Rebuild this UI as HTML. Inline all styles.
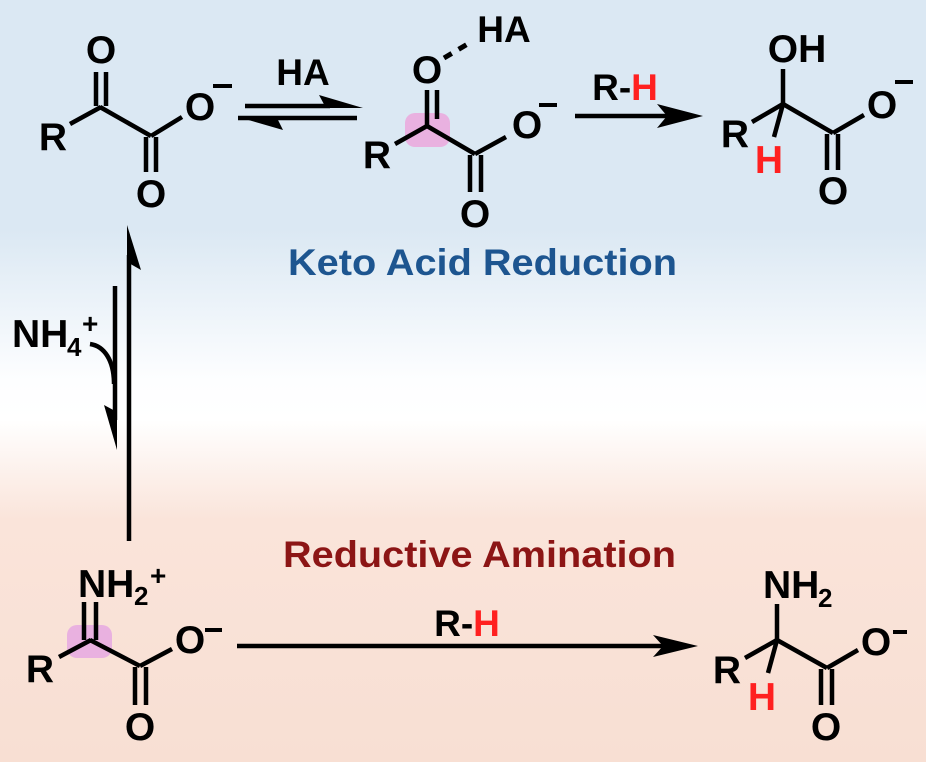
<!DOCTYPE html>
<html><head><meta charset="utf-8"><style>
html,body{margin:0;padding:0;}
body{width:926px;height:762px;overflow:hidden;background:linear-gradient(to bottom,#dbe8f3 0px,#dbe8f3 230px,#fdfeff 380px,#ffffff 420px,#fae4da 520px,#f8dfd3 762px);}
svg{display:block;}
text{font-family:"Liberation Sans",Arial,sans-serif;font-weight:bold;}
</style></head><body>
<svg width="926" height="762" viewBox="0 0 926 762" xmlns="http://www.w3.org/2000/svg">
<g stroke="#000" stroke-width="4.5" fill="none" stroke-linecap="butt">
<line x1="70" y1="124" x2="101" y2="107"/>
<line x1="96" y1="72" x2="96" y2="106"/><line x1="106" y1="72" x2="106" y2="106"/>
<line x1="100" y1="107" x2="151" y2="136"/>
<line x1="151" y1="136" x2="182" y2="117"/>
<line x1="146" y1="137" x2="146" y2="172"/><line x1="156" y1="137" x2="156" y2="172"/>
<line x1="245" y1="106" x2="330" y2="106"/>
<line x1="238" y1="118" x2="357" y2="118"/>
</g>
<polygon points="319,95 363,108 326,108" fill="#000"/>
<polygon points="283,130 238,117 276,116" fill="#000"/>
<rect x="405" y="113" width="45" height="34" rx="10" fill="#e9b1e0"/>
<g stroke="#000" stroke-width="4.5" fill="none">
<line x1="395" y1="144" x2="427" y2="126"/>
<line x1="427" y1="90" x2="427" y2="126"/><line x1="437" y1="90" x2="437" y2="119"/>
<line x1="427" y1="126" x2="475" y2="154"/>
<line x1="475" y1="154" x2="506" y2="137"/>
<line x1="470" y1="155" x2="470" y2="192"/><line x1="481" y1="155" x2="481" y2="192"/>
<line x1="444" y1="58" x2="471" y2="42" stroke-width="5" stroke-dasharray="9,8"/>
<line x1="575" y1="116" x2="670" y2="116"/>
</g>
<polygon points="703,116 657,104 667,116 657,128" fill="#000"/>
<g stroke="#000" stroke-width="4.5" fill="none">
<line x1="783" y1="69" x2="783" y2="105"/>
<line x1="783" y1="104" x2="752" y2="122"/>
<line x1="783" y1="104" x2="774" y2="137"/>
<line x1="783" y1="104" x2="833" y2="133"/>
<line x1="833" y1="133" x2="864" y2="115"/>
<line x1="827" y1="134" x2="827" y2="170"/><line x1="838" y1="134" x2="838" y2="170"/>
</g>
<g stroke="#000" stroke-width="4.5" fill="none">
<line x1="129" y1="255" x2="129" y2="541"/>
<line x1="115" y1="286" x2="115" y2="420"/>
<path d="M90,344 C104,346 114,360 114,384"/>
</g>
<polygon points="127,225 141,270 127,262" fill="#000"/>
<polygon points="117,450 104,405 117,412" fill="#000"/>
<rect x="67" y="625" width="45" height="33" rx="10" fill="#e9b1e0"/>
<g stroke="#000" stroke-width="4.5" fill="none">
<line x1="59" y1="657" x2="91" y2="640"/>
<line x1="84" y1="602" x2="84" y2="640"/><line x1="96" y1="602" x2="96" y2="640"/>
<line x1="90" y1="640" x2="140" y2="666"/>
<line x1="140" y1="666" x2="172" y2="649"/>
<line x1="135" y1="667" x2="135" y2="705"/><line x1="146" y1="667" x2="146" y2="705"/>
<line x1="237" y1="646" x2="665" y2="646"/>
</g>
<polygon points="698,646 653,635 663,646 653,657" fill="#000"/>
<g stroke="#000" stroke-width="4.5" fill="none">
<line x1="777" y1="604" x2="777" y2="641"/>
<line x1="777" y1="640" x2="745" y2="658"/>
<line x1="777" y1="640" x2="768" y2="673"/>
<line x1="777" y1="640" x2="827" y2="668"/>
<line x1="827" y1="668" x2="858" y2="650"/>
<line x1="821" y1="669" x2="821" y2="705"/><line x1="832" y1="669" x2="832" y2="705"/>
</g>
<g font-size="39" fill="#000">
<text x="53" y="150" text-anchor="middle">R</text>
<text x="101" y="63" text-anchor="middle">O</text>
<text x="200" y="120" text-anchor="middle">O</text>
<text x="151" y="207" text-anchor="middle">O</text>
<text x="303" y="85" text-anchor="middle" font-size="37">HA</text>
<text x="377" y="168" text-anchor="middle">R</text>
<text x="427" y="83" text-anchor="middle">O</text>
<text x="504" y="42" text-anchor="middle" font-size="37">HA</text>
<text x="527" y="138" text-anchor="middle">O</text>
<text x="475" y="227" text-anchor="middle">O</text>
<text x="625" y="100" text-anchor="middle" font-size="37">R-<tspan fill="#ff2020">H</tspan></text>
<text x="797" y="62" text-anchor="middle">OH</text>
<text x="735" y="147" text-anchor="middle">R</text>
<text x="769" y="173" text-anchor="middle" fill="#ff2020">H</text>
<text x="882" y="118" text-anchor="middle">O</text>
<text x="833" y="204" text-anchor="middle">O</text>
<text x="12" y="347">NH</text>
<text x="67" y="356" font-size="26">4</text>
<text x="82" y="333" font-size="28">+</text>
<text x="78" y="597">NH</text>
<text x="134" y="605" font-size="26">2</text>
<text x="150" y="585" font-size="28">+</text>
<text x="40" y="682" text-anchor="middle">R</text>
<text x="190" y="653" text-anchor="middle">O</text>
<text x="140" y="740" text-anchor="middle">O</text>
<text x="467" y="636" text-anchor="middle" font-size="37">R-<tspan fill="#ff2020">H</tspan></text>
<text x="763" y="598">NH</text>
<text x="818" y="607" font-size="26">2</text>
<text x="727" y="683" text-anchor="middle">R</text>
<text x="762" y="710" text-anchor="middle" fill="#ff2020">H</text>
<text x="876" y="655" text-anchor="middle">O</text>
<text x="826" y="740" text-anchor="middle">O</text>
</g>
<g stroke="#000" stroke-width="4">
<line x1="213" y1="86" x2="232" y2="86"/>
<line x1="539" y1="105" x2="557" y2="105"/>
<line x1="895" y1="82" x2="913" y2="82"/>
<line x1="205" y1="630" x2="222" y2="630"/>
<line x1="893" y1="632" x2="907" y2="632"/>
</g>
<text x="288" y="275" font-size="37" fill="#1d5590" textLength="389" lengthAdjust="spacingAndGlyphs">Keto Acid Reduction</text>
<text x="283" y="567" font-size="37" fill="#8c1515" textLength="393" lengthAdjust="spacingAndGlyphs">Reductive Amination</text>
</svg>
</body></html>
